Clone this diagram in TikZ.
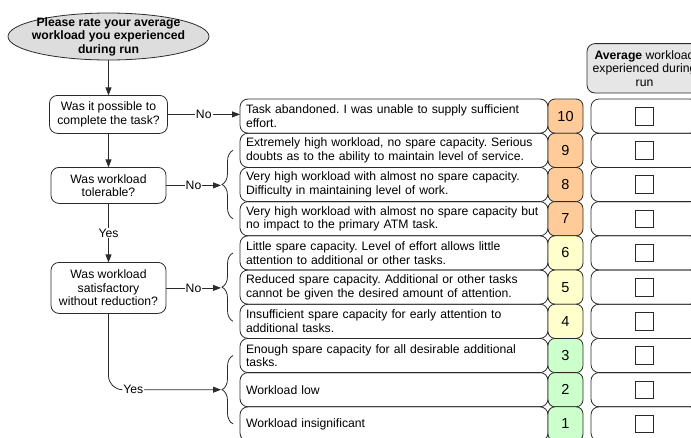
\documentclass[tikz,border=0pt]{standalone}
\usepackage{fontspec}
\setmainfont{Liberation Sans}
\frenchspacing
\usetikzlibrary{arrows.meta, positioning, shapes.geometric, decorations.pathreplacing}
\definecolor{hot}{HTML}{FFCC99}
\definecolor{warm}{HTML}{FFFFCC}
\definecolor{cool}{HTML}{CCFFCC}
\definecolor{promptbg}{HTML}{DDDDDD}
\definecolor{headbg}{HTML}{E6E6E6}
\definecolor{edge}{HTML}{2B2B2B}
\newcommand{\txt}{\fontsize{12.2}{13.5}\selectfont}
\tikzset{
  prompt/.style={ellipse, draw=edge, fill=promptbg, line width=0.8pt,
                 font=\txt\bfseries, align=center, minimum width=201pt,
                 minimum height=47pt, inner xsep=-6pt, inner ysep=-3pt},
  ask/.style={rectangle, rounded corners=8pt, draw=edge, line width=0.8pt,
              align=center, font=\txt, inner sep=3pt, outer sep=0pt},
  desc/.style={rectangle, rounded corners=8pt, draw=edge, line width=0.8pt,
               align=left, font=\txt, text width=296pt, inner xsep=6pt,
               inner ysep=0pt, minimum height=34.2pt, outer sep=0pt},
  num/.style={rectangle, rounded corners=7pt, draw=edge, line width=0.8pt,
              font=\fontsize{14.5}{15}\selectfont, minimum width=35pt,
              minimum height=34.2pt, inner sep=0pt, outer sep=0pt},
  answer/.style={rectangle, rounded corners=8pt, draw=edge, line width=0.8pt,
                 minimum width=107pt, minimum height=34.2pt, inner sep=0pt,
                 outer sep=0pt},
  tickbox/.style={rectangle, draw=edge, line width=0.8pt, minimum size=17.6pt,
                  inner sep=0pt},
  header/.style={rectangle, rounded corners=8pt, draw=edge, fill=headbg,
                 line width=0.8pt, align=center, font=\txt, minimum width=115pt,
                 minimum height=49.4pt, inner sep=0pt, outer sep=0pt},
  choice/.style={fill=white, inner sep=1pt, font=\txt},
  arrow/.style={-{Triangle[length=8pt, width=6pt]}, line width=0.8pt, draw=edge},
  group/.style={decorate, decoration={brace, amplitude=11pt}, line width=0.8pt,
                draw=edge},
}
\newcommand{\level}[4]{% number, placement, fill, description
  \node[desc, #2] (d#1) {#4};
  \node[num, fill=#3, right=0pt of d#1] (n#1) {#1};
  \node[answer, right=8pt of n#1] (a#1) {};
  \node[tickbox] (t#1) at (a#1) {};}

\begin{document}
\begin{tikzpicture}[x=1pt, y=-1pt]
  \useasboundingbox (0,0) rectangle (691,437);
  \clip (0,0) rectangle (691,437);

  \node[prompt] (rate) at (108.5,36.5)
    {Please rate your average\\workload you experienced\\during run};
  \node[ask, minimum width=118pt, minimum height=38pt, below=35pt of rate] (q1)
    {Was it possible to\\complete the task?};
  \node[ask, minimum width=115pt, minimum height=36pt, below=34pt of q1] (q2)
    {Was workload\\tolerable?};
  \node[ask, minimum width=115pt, minimum height=51pt, below=59pt of q2] (q3)
    {Was workload\\satisfactory\\without reduction?};

  \level{10}{anchor=west, at={(240,116.1)}}{hot}
    {Task abandoned. I was unable to supply sufficient\\effort.}
  \level{9}{below=0pt of d10}{hot}
    {Extremely high workload, no spare capacity. Serious\\doubts as to the ability to maintain level of service.}
  \level{8}{below=0pt of d9}{hot}
    {Very high workload with almost no spare capacity.\\Difficulty in maintaining level of work.}
  \level{7}{below=0pt of d8}{hot}
    {Very high workload with almost no spare capacity but\\no impact to the primary ATM task.}
  \level{6}{below=0pt of d7}{warm}
    {Little spare capacity. Level of effort allows little\\attention to additional or other tasks.}
  \level{5}{below=0pt of d6}{warm}
    {Reduced spare capacity. Additional or other tasks\\cannot be given the desired amount of attention.}
  \level{4}{below=0pt of d5}{warm}
    {Insufficient spare capacity for early attention to\\additional tasks.}
  \level{3}{below=0pt of d4}{cool}
    {Enough spare capacity for all desirable additional\\tasks.}
  \level{2}{below=0pt of d3}{cool}
    {Workload low}
  \level{1}{below=0pt of d2}{cool}
    {Workload insignificant}

  \node[header, above=6pt of a10] (avg)
    {\textbf{Average} workload\\experienced during\\run};

  % braces grouping the levels
  \draw[group] ([xshift=-7pt]d7.west) -- ([xshift=-7pt]d9.west);
  \draw[group] ([xshift=-7pt]d4.west) -- ([xshift=-7pt]d6.west);
  \draw[group] ([xshift=-7pt]d1.west) -- ([xshift=-7pt]d3.west);
  \coordinate (tip8) at ([xshift=-19pt]d8.west);
  \coordinate (tip5) at ([xshift=-19pt]d5.west);
  \coordinate (tip2) at ([xshift=-19pt]d2.west);

  \draw[arrow] (rate) -- (q1);
  \draw[arrow] (q1) -- (q2);
  \draw[arrow] (q2) -- (q3) node[choice, midway] {Yes};
  \draw[arrow] (q1) -- (q1 -| d10.west) node[choice, midway] {No};
  \draw[arrow] (q2) -- (q2 -| tip8) node[choice, midway] {No};
  \draw[arrow] (q3) -- (q3 -| tip5) node[choice, midway] {No};
  \draw[arrow, rounded corners=14pt] (q3) |- (tip2) node[choice, pos=0.61] {Yes};
\end{tikzpicture}
\end{document}
